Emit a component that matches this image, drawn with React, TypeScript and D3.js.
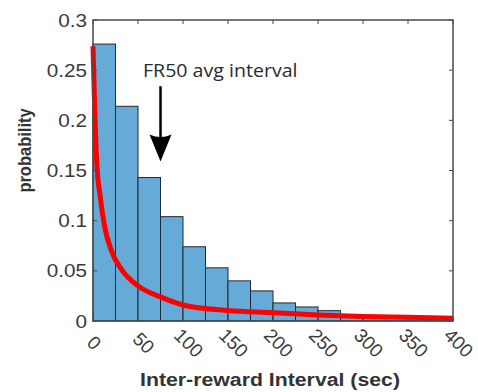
import * as d3 from "d3";

// histogram bins (sec) and probabilities
const binStarts = [0, 25, 50, 75, 100, 125, 150, 175, 200, 225, 250, 275, 300, 325, 350, 375];
const binWidth = 25;
const probs = [0.276, 0.214, 0.143, 0.104, 0.074, 0.053, 0.04, 0.03, 0.018, 0.014, 0.0103, 0.006, 0.005, 0.004, 0.003, 0.002];

// fitted red curve
const fitX = [0, 1.5, 4, 8, 13, 20, 32, 50, 75, 100, 150, 200, 250, 300, 350, 400];
const fitY = [0.274, 0.224, 0.16, 0.124, 0.094, 0.071, 0.051, 0.035, 0.024, 0.016, 0.0105, 0.0083, 0.006, 0.0045, 0.0037, 0.0028];

const xTicks = [0, 50, 100, 150, 200, 250, 300, 350, 400];
const yTicks = [0, 0.05, 0.1, 0.15, 0.2, 0.25, 0.3];

const annotation = { label: "FR50 avg interval", x: 75, yTop: 0.234, yTip: 0.159, textX: 55.5, textY: 0.243 };

const W = 478;
const H = 392;
const left = 93;
const right = 453;
const top = 20;
const bottom = 321;

const axisColor = "#4a4a4a";
const textColor = "#3a3a3a";
const stretch = 1.12; // the source image is a little wider than tall

export default function App() {
  const x = d3.scaleLinear().domain([0, 400]).range([left, right]);
  const y = d3.scaleLinear().domain([0, 0.3]).range([bottom, top]);

  const line = d3
    .line<number>()
    .x((_, i) => x(fitX[i]))
    .y((d) => y(d))
    .curve(d3.curveMonotoneX);

  const ax = x(annotation.x);
  const tipY = y(annotation.yTip);
  const headLen = 27;
  const headHalf = 11;
  const arrowHead = `M${ax},${tipY} L${ax - headHalf},${tipY - headLen} Q${ax},${tipY - 22} ${ax + headHalf},${tipY - headLen} Z`;

  return (
    <svg width={W} height={H} style={{ position: "absolute", left: 0, top: 0, background: "#fff" }}>
      {/* bars */}
      {binStarts.map((b, i) => (
        <rect
          key={b}
          x={x(b)}
          y={y(probs[i])}
          width={x(b + binWidth) - x(b)}
          height={y(0) - y(probs[i])}
          fill="#66aad7"
          stroke="#1f2a33"
          strokeWidth={1}
        />
      ))}

      {/* fitted curve */}
      <path d={line(fitY) || ""} fill="none" stroke="#ff0000" strokeWidth={5} strokeLinejoin="round" />

      {/* axes box */}
      <rect x={left} y={top} width={right - left} height={bottom - top} fill="none" stroke={axisColor} strokeWidth={1.5} />

      {/* y ticks */}
      {yTicks.map((t) => (
        <g key={"y" + t}>
          <line x1={left} x2={left + 4} y1={y(t)} y2={y(t)} stroke={axisColor} strokeWidth={1} />
          <line x1={right} x2={right - 4} y1={y(t)} y2={y(t)} stroke={axisColor} strokeWidth={1} />
          <text
            transform={`translate(${left - 6},${y(t)}) scale(${stretch},1)`}
            textAnchor="end"
            dominantBaseline="central"
            fontFamily="Liberation Sans, Arial, sans-serif"
            fontSize={18.5}
            fill={textColor}
          >
            {String(t)}
          </text>
        </g>
      ))}

      {/* x ticks */}
      {xTicks.map((t) => (
        <g key={"x" + t}>
          <line x1={x(t)} x2={x(t)} y1={bottom} y2={bottom - 4} stroke={axisColor} strokeWidth={1} />
          <line x1={x(t)} x2={x(t)} y1={top} y2={top + 4} stroke={axisColor} strokeWidth={1} />
          <text
            transform={`translate(${x(t) + (t === 0 ? 1 : 5.5)},${343}) rotate(45)`}
            textAnchor="middle"
            dominantBaseline="central"
            fontFamily="Liberation Sans, Arial, sans-serif"
            fontSize={19}
            fill={textColor}
          >
            {t}
          </text>
        </g>
      ))}

      {/* annotation */}
      <text
        transform={`translate(${x(annotation.textX)},${y(annotation.textY)}) scale(${stretch},1)`}
        fontFamily="Open Sans, sans-serif"
        fontSize={17.5}
        fill="#2a2a2a"
      >
        {annotation.label}
      </text>
      <line x1={ax} x2={ax} y1={y(annotation.yTop)} y2={tipY - 15} stroke="#000" strokeWidth={2.5} />
      <path d={arrowHead} fill="#000" />

      {/* axis titles */}
      <text
        transform={`translate(${(left + right) / 2 - 3},${386}) scale(${stretch},1)`}
        textAnchor="middle"
        fontFamily="Liberation Sans, Arial, sans-serif"
        fontWeight="bold"
        fontSize={19}
        fill="#333"
      >
        Inter-reward Interval (sec)
      </text>
      <text
        transform={`translate(${31},${150.5}) rotate(-90) scale(1,${stretch})`}
        textAnchor="middle"
        fontFamily="Liberation Sans, Arial, sans-serif"
        fontWeight="bold"
        fontSize={16.5}
        fill="#333"
      >
        probability
      </text>
    </svg>
  );
}
